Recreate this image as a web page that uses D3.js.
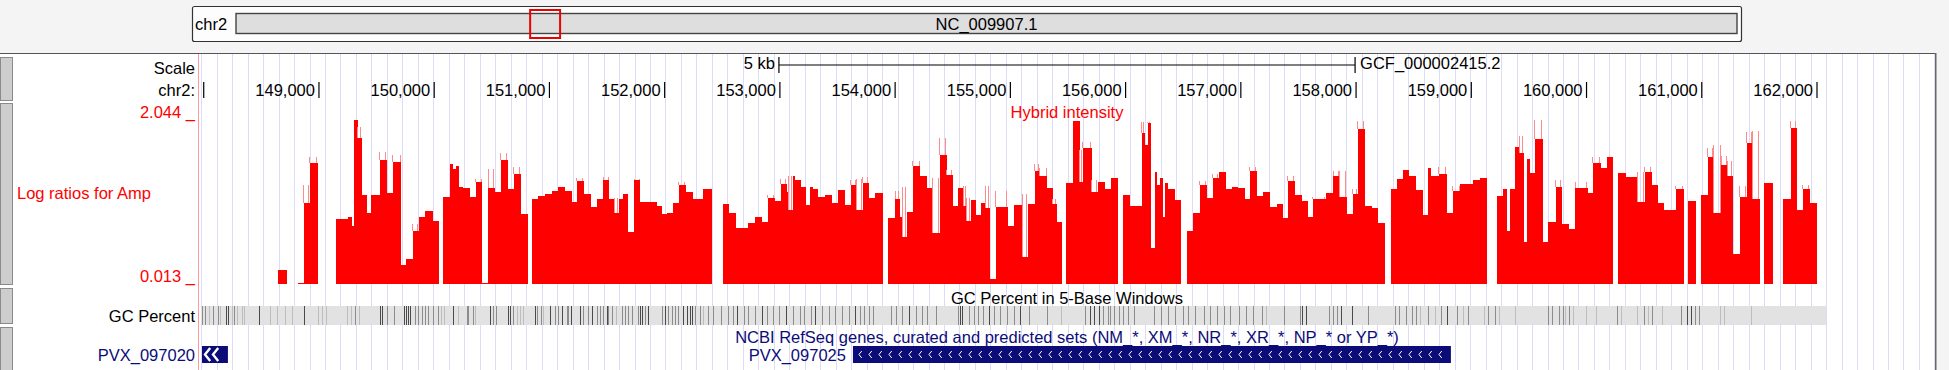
<!DOCTYPE html>
<html>
<head>
<meta charset="utf-8">
<script src="https://cdn.jsdelivr.net/npm/d3@7"></script>
<style>
  body { margin: 0; background: #f4f4f4; }
  svg { display: block; font-family: "Liberation Sans", Arial, Helvetica, sans-serif; }
</style>
</head>
<body>
<svg id="chart"></svg>
<script>
// ---- data ----
const chromName = 'chr2';
const chromAcc = 'NC_009907.1';
const chromLength = 755035;
const viewStart = 147959;
const viewEnd = 163024;
const assembly = 'GCF_000002415.2';
const scaleBarBp = 5000;

const tickPositions = d3.range(148000, 163000, 1000);
const tickLabels = ['', '149,000', '150,000', '151,000', '152,000', '153,000', '154,000',
  '155,000', '156,000', '157,000', '158,000', '159,000', '160,000', '161,000', '162,000'];

// Hybrid intensity, log ratios for Amp: step starts (bp) and mean values (null = no data)
const ampStart = [
  148644, 148722, 148818, 148870, 148922, 148991, 149148, 149252, 149286, 149304,
  149338, 149373, 149417, 149451, 149529, 149590, 149642, 149712, 149755, 149816,
  149868, 149920, 149989, 150041, 150076, 150137, 150163, 150189, 150215, 150250,
  150310, 150362, 150415, 150467, 150527, 150579, 150640, 150692, 150753, 150814,
  150848, 150900, 150961, 151022, 151074, 151135, 151196, 151239, 151300, 151360,
  151412, 151465, 151517, 151569, 151603, 151638, 151681, 151734, 151786, 151933,
  151977, 152020, 152072, 152124, 152185, 152246, 152332, 152410, 152506, 152558,
  152619, 152723, 152784, 152844, 152896, 152957, 153009, 153061, 153079, 153113,
  153131, 153183, 153226, 153261, 153287, 153330, 153391, 153452, 153504, 153565,
  153617, 153669, 153721, 153773, 153825, 153894, 153938, 153999, 154042, 154068,
  154103, 154155, 154216, 154276, 154320, 154389, 154450, 154502, 154545, 154597,
  154623, 154658, 154701, 154745, 154788, 154823, 154875, 154979, 155031, 155109,
  155153, 155213, 155257, 155318, 155370, 155404, 155448, 155483, 155543, 155604,
  155630, 155708, 155760, 155821, 155873, 155934, 155977, 156038, 156142, 156168,
  156194, 156220, 156255, 156272, 156298, 156324, 156342, 156368, 156428, 156480,
  156533, 156585, 156645, 156706, 156758, 156810, 156871, 156923, 156975, 157036,
  157079, 157140, 157192, 157253, 157314, 157366, 157409, 157470, 157530, 157583,
  157626, 157739, 157800, 157860, 157921, 157973, 158016, 158077, 158138, 158190,
  158251, 158303, 158355, 158407, 158459, 158520, 158581, 158624, 158650, 158719,
  158789, 158841, 158902, 159014, 159075, 159136, 159223, 159275, 159310, 159336,
  159379, 159422, 159457, 159483, 159509, 159552, 159622, 159665, 159735, 159787,
  159848, 159900, 160012, 160056, 160125, 160177, 160229, 160273, 160342, 160446,
  160507, 160568, 160620, 160672, 160776, 160845, 160880, 160950, 160993, 161054,
  161106, 161167, 161219, 161271, 161331, 161392, 161444, 161505, 161540, 161618,
  161705, 161774, 161826, 161878, 161939
];
const ampValue = [
  0.184, null, 0.025, 1.004, 1.493, null, 0.808, 0.833, 0.723, 2.020,
  1.799, 1.102, 0.882, 1.102, 1.530, 1.126, 1.506, 0.245, 0.319, 0.661,
  0.833, 0.906, 0.784, null, 1.077, 1.481, 1.420, 1.457, 1.200, 1.188,
  1.077, 1.261, 0.025, 1.188, 1.139, 1.530, 1.175, 1.359, 0.869, null,
  1.053, 1.090, 1.114, 1.151, 1.200, 1.151, 1.016, 1.273, 1.114, 0.955,
  1.053, 1.285, 1.053, 0.882, 1.053, 1.114, 0.649, 1.285, 1.016, 0.967,
  0.869, 0.882, 1.004, 1.224, 1.139, 1.053, 1.175, null, 0.992, 0.882,
  0.698, 0.759, 0.833, 0.772, 1.065, 1.029, 1.237, 1.139, 0.918, 1.334,
  1.285, 1.200, 0.980, 1.200, 1.175, 1.077, 1.102, 1.004, 1.163, 0.980,
  1.224, 0.918, 1.249, 1.065, 1.126, null, 0.821, 1.053, 0.833, 0.588,
  0.894, 1.457, 1.334, 1.188, 0.637, 1.591, 1.347, 0.967, 1.188, 0.967,
  0.784, 1.041, 0.857, 1.004, 0.943, 0.074, 0.955, 0.723, 0.980, 0.343,
  0.992, 1.396, 1.334, 1.188, 0.992, 0.772, null, 1.249, 2.007, 1.261,
  1.677, 1.139, 1.261, 1.175, 1.310, null, 1.102, 0.967, 1.860, 1.714,
  1.983, 0.453, 1.383, 1.224, 1.310, 0.833, 1.249, 1.175, 1.041, null,
  0.661, 0.882, 1.224, 1.065, 1.310, 1.383, 1.175, 1.200, 1.188, 1.053,
  1.396, 1.090, 1.139, 0.955, 0.992, 0.821, 1.273, 1.102, 1.029, 0.833,
  1.053, 1.126, 1.334, 1.077, 0.869, 1.114, 1.909, 0.967, 0.943, 0.759,
  null, 1.175, 1.298, 1.408, 1.334, 1.163, 0.857, 1.432, 1.334, 1.359,
  0.882, 1.151, 1.237, 1.285, 1.310, null, 1.090, 1.175, 0.661, 1.175,
  1.689, 1.616, 0.527, 1.542, 1.371, 1.787, 0.527, 0.772, 1.200, 0.747,
  0.686, 1.188, 1.126, 1.493, 1.432, 1.567, null, 1.371, 1.322, 1.016,
  1.383, 1.224, 1.004, 0.918, 1.175, null, 1.029, null, 1.102, 1.567,
  0.882, 1.469, 1.334, 0.380, 1.077, 1.738, 1.053, null, 1.249, null,
  1.053, 1.922, 0.918, 1.175, 1.004
];
const ampEnd = 162000;
const ampRange = [0.013, 2.044];

// maxima drawn as light whiskers: step start (bp) and max value
const ampMaxStart = [
  148870, 148922, 149338, 149529, 149642, 149816, 150362, 150467, 150579, 150692,
  151239, 151465, 151569, 151734, 152124, 152896, 153009, 153079, 153617, 153669,
  153721, 153999, 154068, 154155, 154320, 154389, 154450, 154597, 154623, 154788,
  154875, 155109, 155213, 155257, 155370, 155604, 155630, 155708, 156142, 156194,
  156645, 156758, 157079, 157409, 157626, 157800, 157860, 157973, 158016, 158719,
  158841, 159422, 159552, 159735, 159900, 160056, 160446, 160507, 160776, 161054,
  161106, 161167, 161219, 161331, 161392, 161444, 161774, 161878
];
const ampMaxValue = [
  1.224, 1.567, 1.934, 1.628, 1.591, 0.747, 1.298, 1.420, 1.616, 1.444,
  1.310, 1.322, 1.065, 1.298, 1.261, 1.102, 1.298, 1.334, 1.285, 1.298,
  1.322, 1.151, 1.200, 1.518, 1.310, 1.799, 1.408, 1.212, 1.065, 1.212,
  1.151, 1.114, 1.481, 1.432, 1.053, 1.652, 1.750, 1.285, 1.995, 1.995,
  1.273, 1.359, 1.444, 1.334, 1.077, 1.396, 1.396, 1.175, 2.007, 1.444,
  1.212, 1.824, 2.020, 1.285, 1.261, 1.567, 1.383, 1.444, 1.212, 1.677,
  1.714, 1.579, 1.518, 1.212, 1.873, 1.885, 2.007, 1.224
];

// GC percent in 5-base windows: gray band extent and darker stripes (bp, level 1..3)
const gcStart = 147975;
const gcEnd = 162078;
const gcPos = [
  147987, 148011, 148045, 148083, 148121, 148141, 148190, 148208, 148242, 148265,
  148286, 148329, 148352, 148479, 148575, 148633, 148705, 148763, 148872, 148994,
  149023, 149058, 149240, 149278, 149312, 149347, 149529, 149544, 149588, 149653,
  149740, 149752, 149770, 149790, 149833, 149857, 149891, 149920, 149949, 149992,
  150030, 150059, 150087, 150165, 150209, 150282, 150296, 150339, 150354, 150484,
  150513, 150533, 150638, 150657, 150686, 150716, 150744, 150773, 150874, 150889,
  150927, 150946, 151005, 151048, 151077, 151106, 151150, 151163, 151187, 151265,
  151294, 151337, 151367, 151410, 151439, 151467, 151497, 151511, 151545, 151575,
  151627, 151655, 151684, 151714, 151771, 151786, 151800, 151829, 151858, 151974,
  152003, 152031, 152061, 152089, 152118, 152161, 152191, 152220, 152240, 152263,
  152306, 152335, 152378, 152422, 152489, 152549, 152593, 152627, 152688, 152723,
  152784, 152844, 152888, 152940, 152992, 153053, 153113, 153174, 153209, 153270,
  153304, 153365, 153426, 153478, 153539, 153599, 153651, 153695, 153730, 153773,
  153808, 153964, 154007, 154059, 154120, 154181, 154233, 154276, 154354, 154545,
  154563, 154580, 154641, 154684, 154719, 154762, 154814, 154858, 154910, 154970,
  155031, 155083, 155161, 155318, 155439, 155647, 155691, 155725, 155769, 155804,
  155847, 155864, 155899, 155942, 155977, 156021, 156073, 156246, 156307, 156368,
  156428, 156498, 156541, 156602, 156680, 156732, 156793, 156854, 156906, 156984,
  157045, 157105, 157183, 157218, 157374, 157513, 157530, 157565, 157765, 157799,
  157834, 157869, 157964, 158103, 158338, 158372, 158433, 158485, 158520, 158554,
  158624, 158685, 158737, 158789, 158876, 158928, 158971, 159110, 159145, 159205,
  159240, 159379, 159665, 159700, 159761, 159795, 159813, 159848, 159882, 159995,
  160082, 160264, 160299, 160438, 160498, 160533, 160568, 160654, 160819, 160872,
  160906, 160941, 160976, 161158, 161193, 161427
];
const gcLevel = [
  2, 2, 1, 2, 2, 1, 3, 3, 1, 2,
  1, 1, 1, 3, 1, 1, 1, 1, 3, 1,
  1, 1, 1, 1, 2, 1, 3, 3, 2, 2,
  3, 3, 3, 3, 2, 2, 2, 2, 2, 2,
  2, 1, 1, 3, 1, 2, 2, 2, 1, 3,
  2, 2, 3, 3, 2, 1, 1, 1, 3, 2,
  2, 1, 3, 2, 2, 3, 2, 2, 3, 3,
  2, 2, 3, 2, 2, 2, 3, 2, 2, 1,
  2, 2, 2, 2, 2, 3, 3, 2, 3, 2,
  3, 2, 2, 2, 2, 3, 3, 3, 3, 2,
  2, 1, 2, 2, 2, 2, 2, 3, 2, 2,
  2, 3, 2, 2, 2, 3, 2, 2, 2, 2,
  3, 2, 2, 2, 2, 2, 3, 2, 2, 2,
  2, 2, 2, 2, 3, 2, 2, 2, 2, 2,
  3, 3, 2, 2, 2, 2, 3, 2, 2, 2,
  2, 3, 2, 2, 1, 2, 3, 3, 3, 2,
  2, 2, 2, 2, 2, 2, 2, 2, 2, 2,
  2, 2, 2, 2, 2, 2, 2, 2, 2, 2,
  2, 2, 2, 1, 2, 2, 3, 3, 2, 2,
  2, 3, 3, 2, 2, 2, 2, 2, 2, 1,
  2, 1, 2, 3, 2, 1, 2, 1, 2, 2,
  1, 1, 2, 2, 2, 2, 1, 2, 1, 1,
  1, 2, 1, 1, 2, 1, 2, 1, 2, 3,
  3, 2, 2, 1, 1, 1
];

// RefSeq genes
const geneNames = ['PVX_097020', 'PVX_097025'];
const geneStart = [147985, 153634];
const geneEnd = [148210, 158823];

// ---- layout ----
const W = 1949, H = 370;
const dataLeft = 199, dataRight = 1935;
const font = 16.5;
const navy = '#0c0c78';

const svg = d3.select('#chart').attr('width', W).attr('height', H);

const x = d3.scaleLinear().domain([viewStart, viewEnd]).range([dataLeft, dataRight]);

// ideogram
const ideo = d3.scaleLinear().domain([0, chromLength]).range([236, 1737]);
svg.append('rect').attr('x', 192.5).attr('y', 6.5).attr('width', 1549).attr('height', 35)
  .attr('rx', 2).attr('fill', '#fdfdfd').attr('stroke', '#333').attr('stroke-width', 1.2);
svg.append('rect').attr('x', ideo(0)).attr('y', 13.5).attr('width', ideo(chromLength) - ideo(0)).attr('height', 20)
  .attr('fill', '#dedede').attr('stroke', '#444').attr('stroke-width', 1.4);
svg.append('text').attr('x', 195).attr('y', 24).attr('dy', '0.35em')
  .style('font-size', font + 'px').text(chromName);
svg.append('text').attr('x', (ideo(0) + ideo(chromLength)) / 2).attr('y', 24).attr('dy', '0.35em')
  .attr('text-anchor', 'middle').style('font-size', font + 'px').text(chromAcc);
svg.append('rect').attr('x', ideo(viewStart)).attr('y', 10).attr('width', ideo(viewEnd) - ideo(viewStart)).attr('height', 28)
  .attr('fill', 'none').attr('stroke', '#e00').attr('stroke-width', 2);

// track panel
svg.append('rect').attr('x', 0).attr('y', 53).attr('width', dataRight).attr('height', H - 53).attr('fill', '#fff');
svg.append('line').attr('x1', 0).attr('x2', dataRight + 1).attr('y1', 53.5).attr('y2', 53.5).attr('stroke', '#555');
svg.append('line').attr('x1', dataRight + 0.5).attr('x2', dataRight + 0.5).attr('y1', 53).attr('y2', H)
  .attr('stroke', '#666').attr('stroke-width', 2);

// side buttons
const buttons = [[57, 100], [103, 284], [288, 323], [327, 372]];
svg.append('g').selectAll('rect').data(buttons).enter().append('rect')
  .attr('x', 0.5).attr('y', d => d[0] + 0.5).attr('width', 12).attr('height', d => d[1] - d[0])
  .attr('fill', '#cdcdcd').attr('stroke', '#8a8a8a');

// guidelines
const grid = d3.range(0, 113).map(i => 201.2 + i * 15.475).filter(v => v < dataRight);
svg.append('g').selectAll('line').data(grid).enter().append('line')
  .attr('x1', d => Math.round(d) + 0.5).attr('x2', d => Math.round(d) + 0.5)
  .attr('y1', 54).attr('y2', H).attr('stroke', '#dcdcf8');
svg.append('line').attr('x1', dataLeft - 0.5).attr('x2', dataLeft - 0.5).attr('y1', 54).attr('y2', H)
  .attr('stroke', '#ff9a9a');

// base position: scale bar and ruler
const label = (xx, yy, txt, anchor, color) => svg.append('text').attr('x', xx).attr('y', yy).attr('dy', '0.35em')
  .attr('text-anchor', anchor).style('font-size', font + 'px').attr('fill', color || '#000').text(txt);

label(195, 68, 'Scale', 'end');
label(195, 90, chromName + ':', 'end');
const mid = (viewStart + viewEnd) / 2;
const sb0 = x(mid - scaleBarBp / 2), sb1 = x(mid + scaleBarBp / 2);
svg.append('path').attr('d', `M${sb0},57V73M${sb0},65H${sb1}M${sb1},57V73`)
  .attr('stroke', '#000').attr('fill', 'none').attr('stroke-width', 1.2);
label(sb0 - 4, 63, (scaleBarBp / 1000) + ' kb', 'end');
label(sb1 + 5, 63, assembly, 'start');

const ruler = svg.append('g');
ruler.selectAll('line').data(tickPositions).enter().append('line')
  .attr('x1', d => x(d)).attr('x2', d => x(d)).attr('y1', 82).attr('y2', 98)
  .attr('stroke', '#000').attr('stroke-width', 1.2);
ruler.selectAll('text').data(tickPositions).enter().append('text')
  .attr('x', d => x(d) - 4).attr('y', 90).attr('dy', '0.35em').attr('text-anchor', 'end')
  .style('font-size', font + 'px').text((d, i) => tickLabels[i]);

// hybrid intensity track
const y = d3.scaleLinear().domain(ampRange).range([284, 118]);
label(17, 193, 'Log ratios for Amp', 'start', '#f00');
label(195, 112, ampRange[1].toFixed(3) + ' _', 'end', '#f00');
label(195, 276, ampRange[0].toFixed(3) + ' _', 'end', '#f00');
label((dataLeft + dataRight) / 2, 112, 'Hybrid intensity', 'middle', '#f00');

const segs = ampStart.map((s, i) => ({
  s, e: i + 1 < ampStart.length ? ampStart[i + 1] : ampEnd, v: ampValue[i]
})).filter(d => d.v !== null);

svg.append('g').selectAll('rect').data(segs).enter().append('rect')
  .attr('x', d => x(d.s)).attr('width', d => x(d.e) - x(d.s))
  .attr('y', d => y(d.v)).attr('height', d => y(ampRange[0]) - y(d.v))
  .attr('fill', '#f00').attr('shape-rendering', 'crispEdges');

// whiskers for the maxima, at both edges of their step
const bySeg = new Map(segs.map(d => [d.s, d]));
const whiskers = [];
ampMaxStart.forEach((s, i) => {
  const d = bySeg.get(s);
  if (!d) return;
  whiskers.push({ px: Math.floor(x(d.s)) + 0.5, v: d.v, m: ampMaxValue[i] });
  whiskers.push({ px: Math.ceil(x(d.e)) - 1.5, v: d.v, m: ampMaxValue[i] });
});
svg.append('g').selectAll('line').data(whiskers).enter().append('line')
  .attr('x1', d => d.px).attr('x2', d => d.px)
  .attr('y1', d => y(d.m)).attr('y2', d => y(d.v))
  .attr('stroke', '#ff8c8c').attr('stroke-width', 1);

// GC percent track
label(195, 316, 'GC Percent', 'end');
label((dataLeft + dataRight) / 2, 298, 'GC Percent in 5-Base Windows', 'middle');
svg.append('rect').attr('x', x(gcStart)).attr('y', 306).attr('width', x(gcEnd) - x(gcStart)).attr('height', 19)
  .attr('fill', '#e2e2e2');
const gcShade = ['#e2e2e2', '#bdbdbd', '#8c8c8c', '#4a4a4a'];
svg.append('g').selectAll('rect').data(gcPos).enter().append('rect')
  .attr('x', d => Math.round(x(d))).attr('y', 306).attr('width', 1).attr('height', 19)
  .attr('fill', (d, i) => gcShade[gcLevel[i]]);

// RefSeq genes track
label((dataLeft + dataRight) / 2, 337, 'NCBI RefSeq genes, curated and predicted sets (NM_*, XM_*, NR_*, XR_*, NP_* or YP_*)', 'middle', navy);
const genes = geneNames.map((n, i) => ({ n, s: geneStart[i], e: geneEnd[i] }));
const gg = svg.append('g');
genes.forEach(g => {
  const x0 = x(g.s), x1 = x(g.e);
  const big = x1 - x0 > 60;
  gg.append('rect').attr('x', x0).attr('y', 346).attr('width', x1 - x0).attr('height', 17).attr('fill', navy);
  const chev = big ? d3.range(x0 + 6, x1 - 5, 10) : d3.range(x0 + 3, x1 - 8, 8);
  const h = big ? 3.5 : 6.5;
  gg.append('path')
    .attr('d', chev.map(c => `M${c + h * 0.8},${354.5 - h}L${c},${354.5}L${c + h * 0.8},${354.5 + h}`).join(''))
    .attr('fill', 'none').attr('stroke', '#fff').attr('stroke-width', big ? 1 : 2.4);
  label(Math.max(x0 - 7, 195), 355, g.n, 'end', navy);
});
</script>
</body>
</html>
